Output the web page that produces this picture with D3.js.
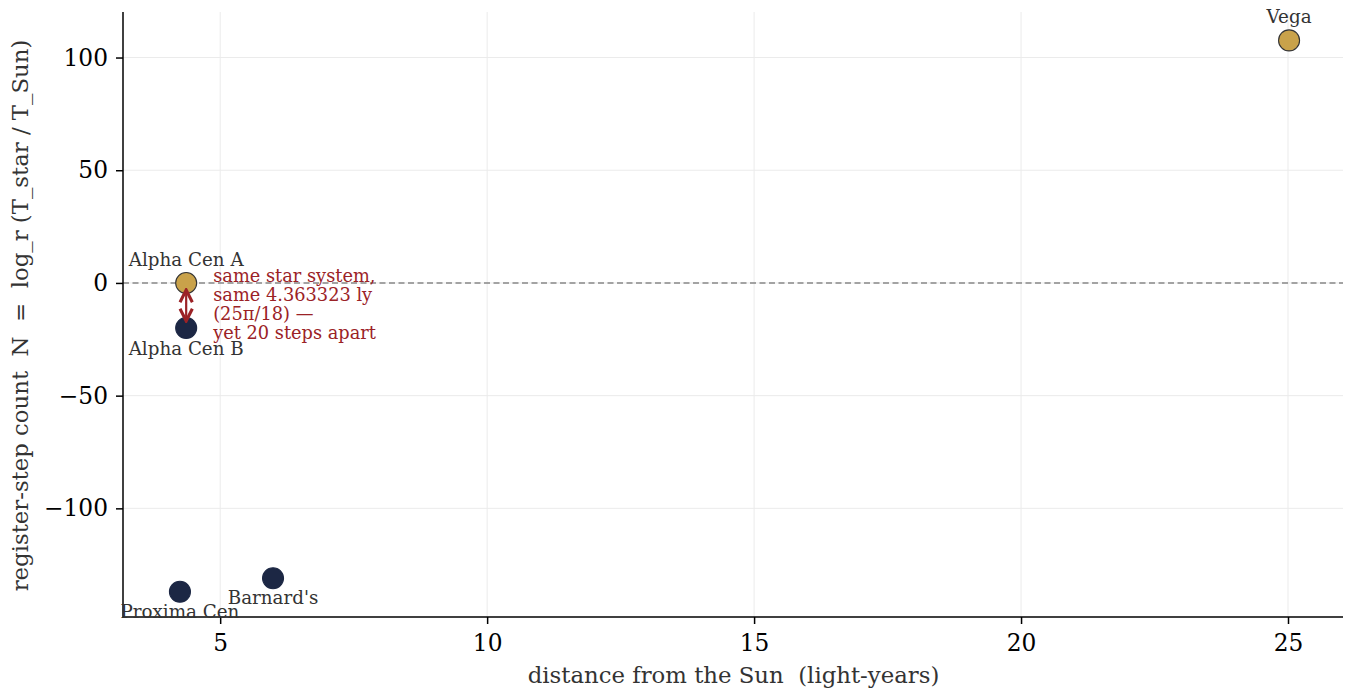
<!DOCTYPE html>
<html><head><meta charset="utf-8">
<script src="https://cdn.jsdelivr.net/npm/d3@7"></script>
<style>body{margin:0;background:#fff}svg{display:block}text{font-family:"DejaVu Serif",serif;white-space:pre}</style>
</head><body><svg id="c" width="1348" height="688"></svg>
<script>
const names = ["Proxima Cen","Alpha Cen A","Alpha Cen B","Barnard's","Vega"];
const distances = [4.2465, 4.3633, 4.3633, 5.99, 25.02];
const steps = [-137, 0, -20, -131, 107.6];
const kinds = ["cool","warm","cool","cool","warm"];
const xTicks = [5,10,15,20,25];
const yTicks = [-100,-50,0,50,100];
const annotationLines = ["same star system,","same 4.363323 ly","(25\u03c0/18) \u2014","yet 20 steps apart"];

const W=1348,H=688, m={l:123,r:5,t:12,b:71};
const svg=d3.select("#c");
const x=d3.scaleLinear().domain([3.18,26.03]).range([m.l,W-m.r]);
const y=d3.scaleLinear().domain([-148.2,120.2]).range([H-m.b,m.t]);
const col={warm:"#c9a24a",cool:"#1c2744"};

// grid
svg.append("g").selectAll("line").data(xTicks).join("line")
 .attr("x1",d=>x(d)).attr("x2",d=>x(d)).attr("y1",m.t).attr("y2",H-m.b)
 .attr("stroke","#ebebeb").attr("stroke-width",1);
svg.append("g").selectAll("line").data(yTicks).join("line")
 .attr("y1",d=>y(d)).attr("y2",d=>y(d)).attr("x1",m.l).attr("x2",W-m.r)
 .attr("stroke","#ebebeb").attr("stroke-width",1);
// zero line
svg.append("line").attr("x1",m.l).attr("x2",W-m.r).attr("y1",y(0)).attr("y2",y(0))
 .attr("stroke","#888").attr("stroke-width",1.5).attr("stroke-dasharray","6,3.5");

// axes
const xa=svg.append("g").attr("transform",`translate(0,${H-m.b})`)
 .call(d3.axisBottom(x).tickValues(xTicks).tickSize(7).tickPadding(10).tickFormat(d3.format("d")));
const ya=svg.append("g").attr("transform",`translate(${m.l},0)`)
 .call(d3.axisLeft(y).tickValues(yTicks).tickSize(7).tickPadding(8).tickFormat(d=>d<0?"\u2212"+Math.abs(d):d));
[xa,ya].forEach(a=>{a.select(".domain").attr("stroke","#000").attr("stroke-width",1.5);
 a.selectAll(".tick line").attr("stroke","#000").attr("stroke-width",1.5);
 a.selectAll(".tick text").attr("fill","#000").style("font-size","23.3px").style("font-family","DejaVu Serif");});
xa.select(".domain").attr("d",`M${m.l},0H${W-m.r}`);
ya.select(".domain").attr("d",`M0,${m.t}V${H-m.b}`);

// labels
svg.append("text").attr("x",(m.l+W-m.r)/2+0.5).attr("y",683).attr("text-anchor","middle")
 .attr("fill","#333").style("font-size","22.8px").text("distance from the Sun  (light-years)");
svg.append("text").attr("transform",`translate(28,${(m.t+H-m.b)/2+1}) rotate(-90)`).attr("text-anchor","middle")
 .attr("fill","#333").style("font-size","22.8px").text("register-step count  N  =  log_r (T_star / T_Sun)");

// arrow
const defs=svg.append("defs");
defs.append("marker").attr("id","ah").attr("viewBox","0 0 10 10").attr("refX",9).attr("refY",5)
 .attr("markerWidth",7).attr("markerHeight",7).attr("orient","auto-start-reverse")
 .append("path").attr("d","M1,1L9,5L1,9").attr("fill","none").attr("stroke","#9b2226").attr("stroke-width",2);

const data=names.map((n,i)=>({n,d:distances[i],s:steps[i],k:kinds[i]}));
svg.append("g").selectAll("circle").data(data).join("circle")
 .attr("cx",d=>x(d.d)).attr("cy",d=>y(d.s)).attr("r",10.5)
 .attr("fill",d=>col[d.k]).attr("stroke",d=>d.k==="warm"?"#333":col.cool).attr("stroke-width",1.1);

const ax=x(distances[1]);
svg.append("line").attr("x1",ax).attr("x2",ax).attr("y1",y(0)+7).attr("y2",y(-20)-7)
 .attr("stroke","#9b2226").attr("stroke-width",2.2)
 .attr("marker-start","url(#ah)").attr("marker-end","url(#ah)");

// point labels (centred on the marker)
const lab=[{i:0,dy:26},{i:1,dy:-17},{i:2,dy:27},{i:3,dy:26},{i:4,dy:-17}];
svg.append("g").selectAll("text").data(lab).join("text")
 .attr("x",d=>x(distances[d.i])).attr("y",d=>y(steps[d.i])+d.dy).attr("text-anchor","middle")
 .attr("fill","#333").style("font-size","18.3px").text(d=>names[d.i]);

svg.append("g").selectAll("text").data(annotationLines).join("text")
 .attr("x",x(distances[1])+27).attr("y",(d,i)=>y(0)-1+i*19.1)
 .attr("fill","#9b2226").style("font-size","17.8px").text(d=>d);
</script></body></html>
